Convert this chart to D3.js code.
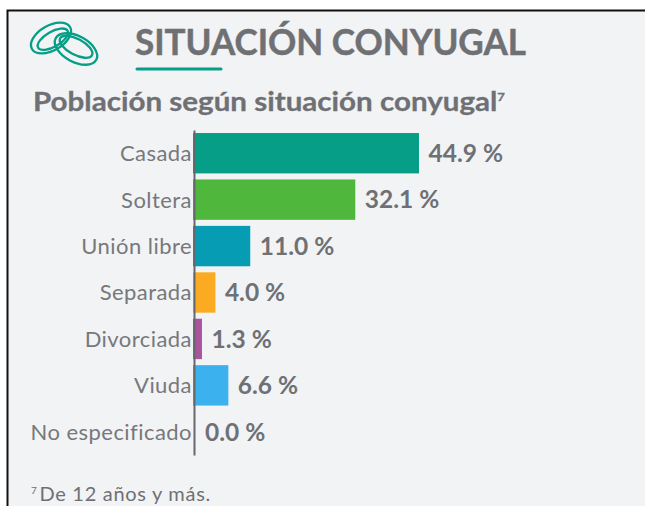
<!DOCTYPE html>
<html><head><meta charset="utf-8">
<script src="https://cdn.jsdelivr.net/npm/d3@7/dist/d3.min.js"></script>
<style>html,body{margin:0;padding:0;background:#fff}svg{display:block}
text{font-family:Lato,sans-serif;fill:#6f7074}</style></head>
<body><svg id="c" width="645" height="506"></svg>
<script>
const categories=["Casada","Soltera","Unión libre","Separada","Divorciada","Viuda","No especificado"];
const values=[44.9,32.1,11.0,4.0,1.3,6.6,0.0];
const valueLabels=["44.9 %","32.1 %","11.0 %","4.0 %","1.3 %","6.6 %","0.0 %"];
const colors=["#069e87","#4fb83c","#069cb4","#fbab21","#a9559d","#3bb1ee","#999999"];
const svg=d3.select("#c");
svg.append("rect").attr("x",7).attr("y",10).attr("width",638).attr("height",496).attr("fill","#f1f3f5");
svg.append("path").attr("d","M7.5 506V10.5H645").attr("fill","none").attr("stroke","#111").attr("stroke-width",2);

// rings icon
const icon=svg.append("g").attr("fill","none").attr("stroke","#069e87").attr("stroke-width",2.3);
[[51,38,22,12.5,-30,0,0],[51,38,17,7.5,-30,1,2],[76,49,23,13,28,0,0],[76,49,18,8,28,-1,-2]].forEach(e=>{
  icon.append("ellipse").attr("rx",e[2]).attr("ry",e[3]).attr("transform",`translate(${e[0]},${e[1]}) rotate(${e[4]}) translate(${e[5]},${e[6]})`);
});

svg.append("text").attr("x",135).attr("y",55).attr("font-size",37).attr("font-weight",700).attr("stroke","#6f7074").attr("stroke-width",0.5).attr("textLength",391).attr("lengthAdjust","spacingAndGlyphs").text("SITUACIÓN CONYUGAL");
svg.append("line").attr("x1",137).attr("x2",221).attr("y1",69).attr("y2",69).attr("stroke","#069e87").attr("stroke-width",3).attr("stroke-linecap","round");
const sub=svg.append("text").attr("x",33).attr("y",111).attr("font-size",27).attr("font-weight",700).attr("stroke","#6f7074").attr("stroke-width",0.3).attr("textLength",472).attr("lengthAdjust","spacingAndGlyphs");
sub.append("tspan").text("Población según situación conyugal");
sub.append("tspan").attr("font-size",12).attr("dy",-10).text("7");

const x=d3.scaleLinear().domain([0,44.9]).range([195.5,419]);
const y=d3.scaleBand().domain(categories).range([130,455]).paddingInner(0.13).paddingOuter(0.065);
svg.selectAll("rect.bar").data(values).join("rect").attr("class","bar")
 .attr("x",193).attr("y",(d,i)=>y(categories[i])).attr("width",d=>x(d)-193).attr("height",y.bandwidth()).attr("fill",(d,i)=>colors[i])
 .attr("display",d=>d>0?null:"none");
const axis=svg.append("g").attr("transform","translate(194,0)").call(d3.axisLeft(y).tickSize(0).tickPadding(2));
axis.select(".domain").attr("stroke","#66686c").attr("stroke-width",2);
axis.selectAll("text").attr("font-size",22).attr("dy","0.36em").attr("letter-spacing",0.45).style("font-family","Lato,sans-serif").style("fill","#77787c");
svg.selectAll("text.v").data(values).join("text").attr("class","v")
 .attr("x",d=>x(d)+9.5).attr("y",(d,i)=>y(categories[i])+y.bandwidth()/2).attr("dy","0.36em")
 .attr("font-size",24.5).attr("font-weight",700).text((d,i)=>valueLabels[i]);

const fn=svg.append("text").attr("x",31).attr("y",501).attr("font-size",20).attr("letter-spacing",0.7).attr("fill","#77787c");
fn.append("tspan").attr("font-size",10).attr("dy",-7).text("7");
fn.append("tspan").attr("dy",7).attr("dx",2).text("De 12 años y más.");
</script></body></html>
